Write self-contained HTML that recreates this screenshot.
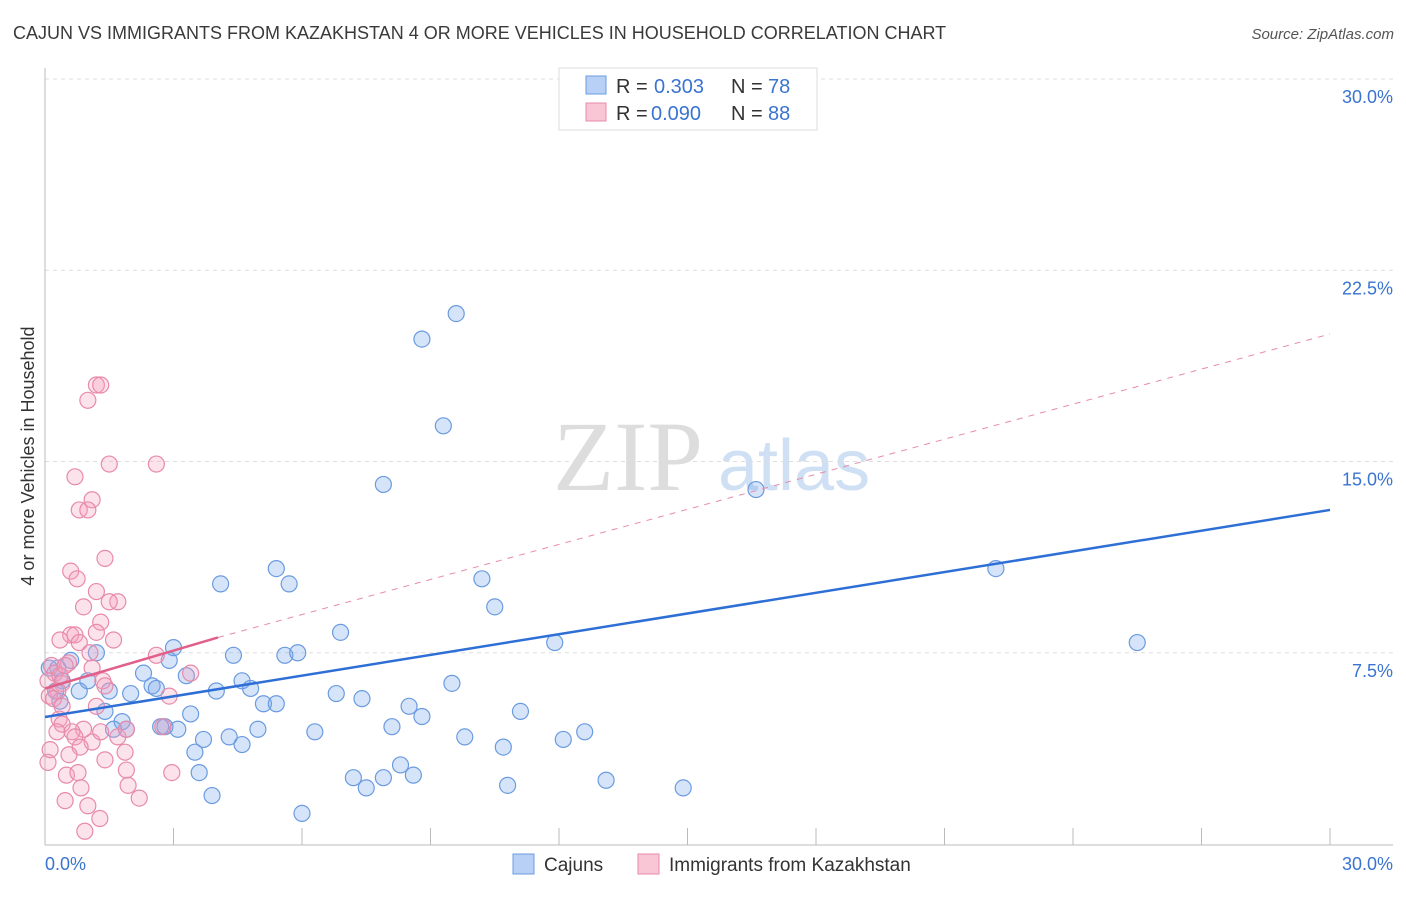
<!DOCTYPE html>
<html><head><meta charset="utf-8"><style>
body{margin:0;background:#fff;font-family:"Liberation Sans",sans-serif}
svg text{font-family:"Liberation Sans",sans-serif}
</style></head><body>
<svg id="chart" width="1406" height="892" xmlns="http://www.w3.org/2000/svg">
<text x="13" y="39" font-size="18" fill="#3a3a3a">CAJUN VS IMMIGRANTS FROM KAZAKHSTAN 4 OR MORE VEHICLES IN HOUSEHOLD CORRELATION CHART</text>
<text x="1394" y="39" font-size="15" fill="#555" text-anchor="end" font-style="italic">Source: ZipAtlas.com</text>
<g>
<text x="553" y="490" font-size="100" fill="#ddd" style="font-family:'Liberation Serif',serif">ZIP</text>
<text x="718" y="490" font-size="72" fill="#cfe0f4">atlas</text>
</g>
<text transform="translate(34,456) rotate(-90)" font-size="18" fill="#333" text-anchor="middle">4 or more Vehicles in Household</text>
<g id="grid"></g>
<g id="axes"></g>
<g id="marks"></g>
<g font-size="20">
<rect x="559" y="68" width="258" height="62" fill="#fff" stroke="#ddd"/>
<rect x="586" y="76" width="20" height="18" fill="#b8d0f5" stroke="#6a9be0"/>
<text x="616" y="93" fill="#333">R =</text>
<text x="654" y="93" fill="#3a74d0">0.303</text>
<text x="731" y="93" fill="#333">N =</text>
<text x="768" y="93" fill="#3a74d0">78</text>
<rect x="586" y="103" width="20" height="18" fill="#f9c6d6" stroke="#e88aaa"/>
<text x="616" y="120" fill="#333">R =</text>
<text x="651" y="120" fill="#3a74d0">0.090</text>
<text x="731" y="120" fill="#333">N =</text>
<text x="768" y="120" fill="#3a74d0">88</text>
</g>
<g>
<rect x="513" y="854" width="21" height="20" fill="#b8d0f5" stroke="#6a9be0"/>
<text x="544" y="871" font-size="19" fill="#333">Cajuns</text>
<rect x="638" y="854" width="21" height="20" fill="#f9c6d6" stroke="#e88aaa"/>
<text x="669" y="871" font-size="19" fill="#333">Immigrants from Kazakhstan</text>
</g>
</svg>
<script>
const yTicks=[7.5,15,22.5,30];
const yTickLabels=["7.5%","15.0%","22.5%","30.0%"];
const xTickLabels=["0.0%","30.0%"];
const cajunX=[17.6,9.6,8.8,9.3,7.9,16.6,22.2,25.5,4.1,5.4,5.7,10.2,10.5,6.9,11.9,3.0,4.4,5.6,5.9,2.9,2.3,0.6,1.2,0.3,0.4,0.8,1.5,1.0,2.0,2.5,2.6,4.6,4.8,4.0,6.8,7.4,9.5,3.3,5.1,5.4,8.5,8.8,11.1,3.4,1.4,1.8,1.6,1.9,2.7,2.8,3.1,8.1,4.97,6.3,9.8,12.6,12.1,10.7,4.3,4.6,3.7,3.5,3.6,8.3,7.2,7.9,8.6,7.5,10.8,13.1,14.9,3.9,6.0,0.25,0.1,0.35];
const cajunY=[29.8,20.8,19.8,16.4,14.1,13.9,10.8,7.9,10.2,10.8,10.2,10.4,9.3,8.3,7.9,7.7,7.4,7.4,7.5,7.2,6.7,7.2,7.5,6.9,6.4,6.0,6.0,6.4,5.9,6.2,6.1,6.4,6.1,6.0,5.9,5.7,6.3,6.6,5.5,5.5,5.4,5.0,5.2,5.1,5.2,4.8,4.5,4.5,4.6,4.6,4.5,4.6,4.5,4.4,4.2,4.4,4.1,3.8,4.2,3.9,4.1,3.6,2.8,3.1,2.6,2.6,2.7,2.2,2.3,2.5,2.2,1.9,1.2,6.0,6.9,5.6];
const kazX=[1.2,1.3,1.0,0.7,1.5,2.6,1.1,0.8,1.0,1.4,0.6,0.75,1.2,1.7,0.9,1.5,1.3,1.2,0.6,0.7,0.35,1.6,2.6,3.4,0.8,0.55,1.1,1.05,0.15,0.23,0.07,0.4,0.3,0.1,0.2,1.35,1.4,2.9,1.2,0.4,0.33,0.4,0.9,0.63,0.7,1.1,1.7,1.9,2.75,1.3,0.28,0.07,1.4,0.82,1.87,0.56,0.5,0.77,1.9,1.94,2.2,0.84,0.47,1.0,1.28,0.93,2.96,0.12,0.35,0.47];
const kazY=[18.0,18.0,17.4,14.4,14.9,14.9,13.5,13.1,13.1,11.2,10.7,10.4,9.9,9.5,9.3,9.5,8.7,8.3,8.2,8.2,8.0,8.0,7.4,6.7,7.9,7.1,6.9,7.5,7.0,6.7,6.4,6.3,6.0,5.8,5.7,6.4,6.2,5.8,5.4,5.4,4.9,4.7,4.5,4.4,4.2,4.0,4.2,4.5,4.6,4.4,4.4,3.2,3.3,3.8,3.6,3.5,2.7,2.8,2.9,2.3,1.8,2.2,1.7,1.5,1.0,0.5,2.8,3.7,6.6,7.0];
const cajunTrend=[0,4.98,30,13.1];
const kazTrend=[0,6.1,4.04,8.1,30,20.0];
const NS="http://www.w3.org/2000/svg";
const X=v=>45+v*(1285/30), Y=v=>844-v*25.5;
function mk(p,t,a){const e=document.createElementNS(NS,t);for(const k in a)e.setAttribute(k,a[k]);p.appendChild(e);return e;}
const grid=document.getElementById('grid'),axes=document.getElementById('axes'),marks=document.getElementById('marks');
yTicks.forEach((t,i)=>{
 const l=mk(grid,'line',{x1:45,x2:1393,y1:Y(t),y2:Y(t),stroke:'#ddd','stroke-dasharray':'4,4'});
 
 
 const tx=mk(axes,'text',{x:1393,y:Y(t)+24,'font-size':18,fill:'#3a74d0','text-anchor':'end'});
 tx.textContent=yTickLabels[i];
 
 
});
let a=mk(axes,'line',{x1:45,x2:45,y1:68,y2:845,stroke:'#bbb'});


a=mk(axes,'line',{x1:45,x2:1393,y1:845,y2:845,stroke:'#bbb'});


for(let i=1;i<=10;i++){const t=mk(axes,'line',{x1:X(i*3),x2:X(i*3),y1:828,y2:845,stroke:'#bbb'});
 
 }
[[45,'start',0],[1393,'end',1]].forEach(([x,an,i])=>{const t=mk(axes,'text',{x:x,y:870,'font-size':18,fill:'#3a74d0','text-anchor':an});t.textContent=xTickLabels[i];
 
 });
cajunX.forEach((v,i)=>{const c=mk(marks,'circle',{cx:X(v),cy:Y(cajunY[i]),r:8,fill:'rgba(120,165,235,0.3)',stroke:'#6a9be0','stroke-width':1.2});
 
 });
kazX.forEach((v,i)=>{const c=mk(marks,'circle',{cx:X(v),cy:Y(kazY[i]),r:8,fill:'rgba(245,160,190,0.3)',stroke:'#e88aaa','stroke-width':1.2});
 
 });
let t=mk(marks,'line',{x1:X(kazTrend[2]),y1:Y(kazTrend[3]),x2:X(kazTrend[4]),y2:Y(kazTrend[5]),stroke:'#e88aaa','stroke-dasharray':'6,6','stroke-width':1});


t=mk(marks,'line',{x1:X(kazTrend[0]),y1:Y(kazTrend[1]),x2:X(kazTrend[2]),y2:Y(kazTrend[3]),stroke:'#e0608a','stroke-width':2.5});


t=mk(marks,'line',{x1:X(cajunTrend[0]),y1:Y(cajunTrend[1]),x2:X(cajunTrend[2]),y2:Y(cajunTrend[3]),stroke:'#2e6fd6','stroke-width':2.5});


</script>
</body></html>
